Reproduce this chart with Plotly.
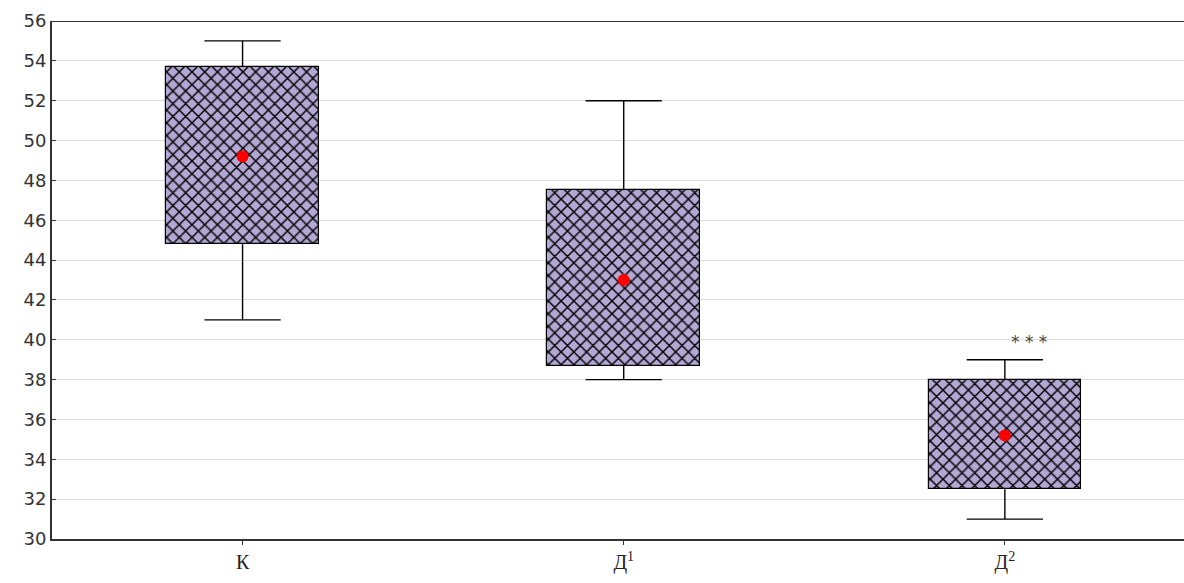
import plotly.graph_objects as go

# ---- data ----
categories = ["К", "Д<sup>1</sup>", "Д<sup>2</sup>"]
box_low = [44.8, 38.7, 32.5]
box_high = [53.7, 47.5, 38.0]
whisker_min = [41.0, 38.0, 31.0]
whisker_max = [55.0, 52.0, 39.0]
means = [49.2, 43.0, 35.2]
sig_labels = ["", "", "* * *"]
y_ticks = list(range(30, 57, 2))

xpos = list(range(len(categories)))
box_w = 0.40
cap_half = 0.10

fig = go.Figure()

# boxes as floating bars
fig.add_trace(go.Bar(
    x=xpos,
    y=[h - l for h, l in zip(box_high, box_low)],
    base=box_low,
    width=box_w,
    marker=dict(
        color="#b3a8d4",
        line=dict(color="black", width=1.2),
        pattern=dict(shape="x", fgcolor="#000000", fgopacity=1, bgcolor="#b3a8d4",
                     size=9, solidity=0.3),
    ),
    showlegend=False,
    hoverinfo="skip",
))

# whiskers
wx, wy = [], []
for x, lo, hi, mn, mx in zip(xpos, box_low, box_high, whisker_min, whisker_max):
    wx += [x, x, None, x - cap_half, x + cap_half, None, x, x, None, x - cap_half, x + cap_half, None]
    wy += [hi, mx, None, mx, mx, None, lo, mn, None, mn, mn, None]
fig.add_trace(go.Scatter(x=wx, y=wy, mode="lines", line=dict(color="black", width=1.4),
                         showlegend=False, hoverinfo="skip"))

# means
fig.add_trace(go.Scatter(x=xpos, y=means, mode="markers",
                         marker=dict(color="#ff0000", size=12),
                         showlegend=False))

# significance labels
for x, mx, lab in zip(xpos, whisker_max, sig_labels):
    if lab:
        fig.add_annotation(x=x + 0.063, y=mx + 0.9, text=lab, showarrow=False,
                           font=dict(family="DejaVu Sans", size=17, color="#444444"))

fig.update_layout(
    width=1184, height=583,
    margin=dict(l=52, r=0, t=21, b=44),
    plot_bgcolor="white", paper_bgcolor="white",
    bargap=0,
    shapes=[dict(type="line", xref="paper", yref="y", x0=0, x1=1, y0=56, y1=56,
                 line=dict(color="#333333", width=2))],
)
fig.update_xaxes(
    range=[-0.5, 2.47],
    tickvals=xpos, ticktext=categories,
    showgrid=False, zeroline=False,
    showline=True, linecolor="#333333", linewidth=2,
    ticks="outside", ticklen=4, tickcolor="#333333",
    tickfont=dict(family="Liberation Serif", size=20, color="#222222"),
)
fig.update_yaxes(
    range=[30, 56],
    tickvals=y_ticks,
    showgrid=True, gridcolor="#dcdcdc", gridwidth=1,
    zeroline=False,
    showline=True, linecolor="#333333", linewidth=2,
    ticks="inside", ticklen=4, tickcolor="#333333",
    tickfont=dict(family="DejaVu Sans", size=18, color="#333333"),
)

fig.write_html("out.html", config={"displayModeBar": False},
               post_script="document.body.style.margin='0px';")
